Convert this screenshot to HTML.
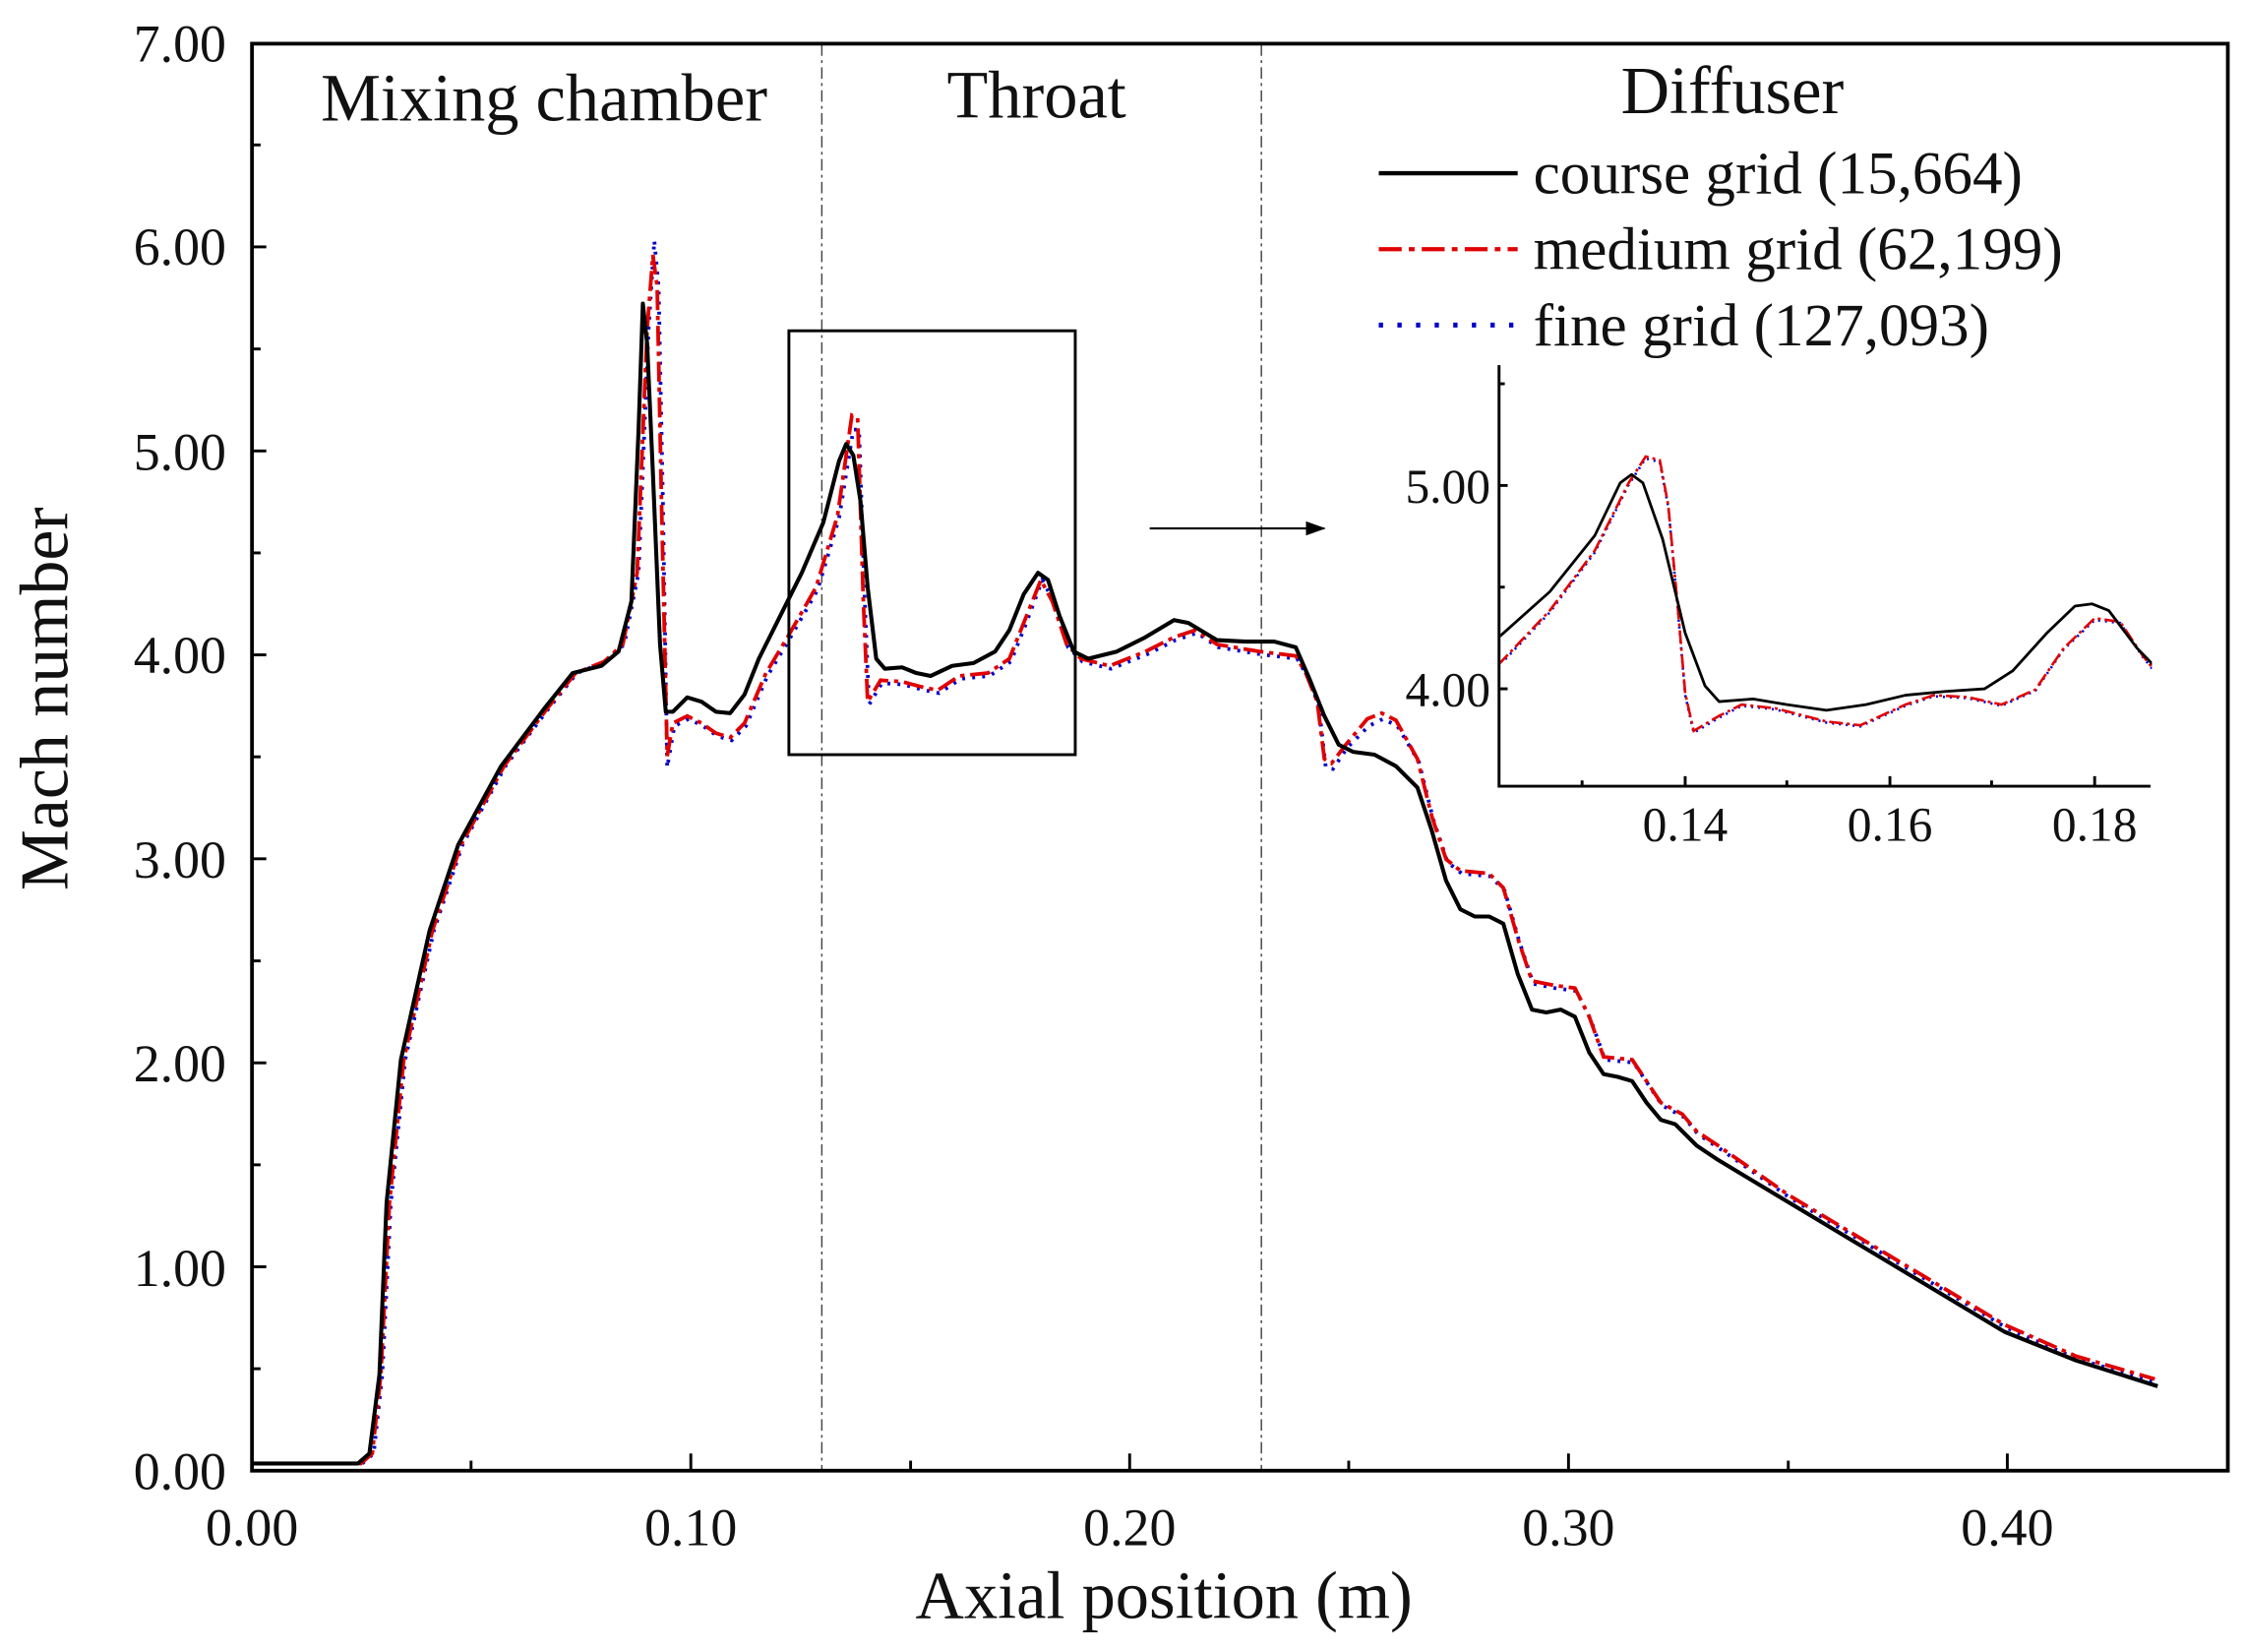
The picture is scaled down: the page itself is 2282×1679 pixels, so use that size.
<!DOCTYPE html>
<html><head><meta charset="utf-8"><style>
html,body{margin:0;padding:0;background:#fff;}
svg{display:block;}
text{font-family:"Liberation Serif",serif;fill:#111;}
</style></head><body>
<svg width="2282" height="1679" viewBox="0 0 1568 1153.6" preserveAspectRatio="none" xmlns="http://www.w3.org/2000/svg">
<defs>
<clipPath id="ic"><rect x="1048" y="250" width="455" height="299"/></clipPath>
<marker id="ah" markerWidth="14" markerHeight="10" refX="13" refY="5" orient="auto" markerUnits="userSpaceOnUse"><path d="M0,0 L14,5 L0,10 z" fill="#000"/></marker>
</defs>
<line x1="574" y1="31" x2="574" y2="1026" stroke="#444" stroke-width="1" stroke-dasharray="8,3,2,3"/>
<line x1="881" y1="31" x2="881" y2="1026" stroke="#444" stroke-width="1" stroke-dasharray="8,3,2,3"/>
<g stroke="#000" stroke-width="2">
<line x1="176" y1="884.6" x2="186" y2="884.6"/><line x1="176" y1="742.2" x2="186" y2="742.2"/><line x1="176" y1="599.7" x2="186" y2="599.7"/><line x1="176" y1="457.3" x2="186" y2="457.3"/><line x1="176" y1="314.9" x2="186" y2="314.9"/><line x1="176" y1="172.4" x2="186" y2="172.4"/>
<line x1="176" y1="955.8" x2="182" y2="955.8"/><line x1="176" y1="813.4" x2="182" y2="813.4"/><line x1="176" y1="671" x2="182" y2="671"/><line x1="176" y1="528.5" x2="182" y2="528.5"/><line x1="176" y1="386.1" x2="182" y2="386.1"/><line x1="176" y1="243.7" x2="182" y2="243.7"/><line x1="176" y1="101.2" x2="182" y2="101.2"/>
<line x1="482.5" y1="1027" x2="482.5" y2="1015"/><line x1="789" y1="1027" x2="789" y2="1015"/><line x1="1095.5" y1="1027" x2="1095.5" y2="1015"/><line x1="1402" y1="1027" x2="1402" y2="1015"/>
<line x1="329" y1="1027" x2="329" y2="1020"/><line x1="636" y1="1027" x2="636" y2="1020"/><line x1="942" y1="1027" x2="942" y2="1020"/><line x1="1249" y1="1027" x2="1249" y2="1020"/>
</g>
<polyline fill="none" stroke="#0000cc" stroke-width="2.6" stroke-dasharray="2,5" points="176,1022 253,1022 261,1015 267,960 273,840 283,740 303,650 323,590 353,535 383,495 403,470 423,462 436,450 446,400 453,230 457,168 460,200 463,350 466,536 471,507 481,502 491,507 501,514 511,517 521,507 536,472 551,447 571,412 586,362 596,300 600,300 604,420 607,492 616,477 631,478 646,482 656,484 671,474 691,472 706,462 716,437 728,405 736,420 746,452 756,462 776,467 801,457 821,447 836,442 851,452 881,457 906,460 913,472 921,492 926,536 931,537 941,522 956,507 966,502 976,507 991,532 1001,572 1011,602 1021,610 1041,612 1051,622 1061,657 1071,687 1086,690 1101,692 1111,712 1121,740 1141,742 1151,757 1161,772 1176,780 1186,792 1201,802 1251,837 1301,867 1351,897 1401,927 1451,949 1505,965"/>
<polyline fill="none" stroke="#e00000" stroke-width="2.6" stroke-dasharray="14,4,3,4" points="176,1022 252,1022 260,1015 266,960 272,840 282,740 302,650 322,590 352,535 382,495 402,470 422,462 435,450 445,400 452,230 456,178 459,200 462,350 466,528 470,505 480,500 490,505 500,512 510,515 520,505 535,470 550,445 570,410 585,360 595,290 599,292 603,420 606,490 615,475 630,476 645,480 655,482 670,472 690,470 705,460 715,435 727,405 735,420 745,450 755,460 775,465 800,455 820,445 835,440 850,450 880,455 905,458 912,470 920,490 925,530 930,533 940,520 955,502 965,498 975,503 990,530 1000,570 1010,600 1020,608 1040,610 1050,620 1060,655 1070,685 1085,688 1100,690 1110,710 1120,738 1140,740 1150,755 1160,770 1175,778 1185,790 1200,800 1250,835 1300,865 1350,895 1400,925 1450,947 1505,963"/>
<polyline fill="none" stroke="#000" stroke-width="2.8" stroke-linejoin="round" points="176,1022 250,1022 258,1015 265,960 270,840 280,740 300,650 320,590 350,535 380,495 400,470 420,465 432,455 441,420 446,300 449,212 452,240 456,330 461,450 465,497 470,497 480,487 490,490 500,497 510,498 520,485 530,460 545,430 560,400 575,365 586,322 591,310 596,318 601,350 606,410 612,460 618,467 630,466 640,470 650,472 665,465 680,463 695,455 705,440 715,415 725,400 732,405 740,430 750,455 760,460 780,455 800,445 820,433 830,435 850,447 870,448 890,448 905,452 915,475 925,500 935,520 945,525 960,527 975,535 990,550 1000,580 1010,615 1020,635 1030,640 1040,640 1050,645 1060,680 1070,705 1080,707 1090,705 1100,710 1110,735 1120,750 1130,752 1140,755 1150,770 1160,782 1170,785 1185,800 1200,810 1250,840 1300,870 1350,900 1400,930 1450,950 1507,968"/>
<rect x="176" y="30.5" width="1380" height="996.5" fill="none" stroke="#000" stroke-width="2.6"/>
<rect x="551" y="231" width="200" height="296" fill="none" stroke="#000" stroke-width="2"/>
<line x1="803" y1="369" x2="925" y2="369" stroke="#000" stroke-width="1.5" marker-end="url(#ah)"/>
<g font-size="37" text-anchor="end">
<text x="158" y="1040">0.00</text><text x="158" y="898">1.00</text><text x="158" y="755">2.00</text><text x="158" y="613">3.00</text><text x="158" y="470">4.00</text><text x="158" y="328">5.00</text><text x="158" y="185">6.00</text><text x="158" y="43">7.00</text>
</g>
<g font-size="37" text-anchor="middle">
<text x="176" y="1079">0.00</text><text x="482.5" y="1079">0.10</text><text x="789" y="1079">0.20</text><text x="1095.5" y="1079">0.30</text><text x="1402" y="1079">0.40</text>
</g>
<text x="813" y="1130" font-size="47" text-anchor="middle">Axial position (m)</text>
<text transform="translate(47,488) rotate(-90)" font-size="48" text-anchor="middle">Mach number</text>
<g font-size="47" text-anchor="middle">
<text x="380" y="84">Mixing chamber</text><text x="724" y="82">Throat</text><text x="1210" y="79">Diffuser</text>
</g>
<line x1="963" y1="121" x2="1060" y2="121" stroke="#000" stroke-width="3"/>
<line x1="963" y1="174" x2="1060" y2="174" stroke="#e00000" stroke-width="3" stroke-dasharray="16,5,4,5"/>
<line x1="963" y1="227" x2="1060" y2="227" stroke="#0000cc" stroke-width="3.5" stroke-dasharray="3,10"/>
<g font-size="42"><text x="1071" y="135">course grid (15,664)</text><text x="1071" y="188">medium grid (62,199)</text><text x="1071" y="241">fine grid (127,093)</text></g>
<g clip-path="url(#ic)">
<g transform="matrix(0.3945,0,0,0.2625,964,205.9)">
<polyline fill="none" vector-effect="non-scaling-stroke" stroke="#0000cc" stroke-width="2.6" stroke-dasharray="2,5" points="150,980 218,975 300,845 380,685 440,505 470,435 495,445 510,565 525,805 540,1065 555,1165 600,1125 640,1093 700,1103 790,1138 850,1148 930,1093 980,1068 1040,1073 1100,1093 1160,1053 1210,943 1265,865 1310,873 1350,963 1398,1053 1500,1150"/>
<polyline fill="none" vector-effect="non-scaling-stroke" stroke="#e00000" stroke-width="2.6" stroke-dasharray="14,4,3,4" points="150,1080 218,970 300,840 380,680 440,500 470,430 495,440 510,560 525,800 540,1060 555,1160 600,1120 640,1090 700,1100 790,1135 850,1145 930,1090 980,1065 1040,1070 1100,1090 1160,1050 1210,940 1265,860 1310,870 1350,960 1398,1050 1500,1150"/>
<polyline fill="none" vector-effect="non-scaling-stroke" stroke="#000" stroke-width="2.8" stroke-linejoin="round" points="150,990 218,900 300,790 380,640 425,500 445,478 465,500 500,650 540,900 575,1040 600,1082 660,1075 720,1090 790,1105 860,1090 930,1065 1000,1055 1070,1048 1120,1000 1180,900 1230,828 1260,822 1290,840 1340,940 1398,1030 1500,1150"/>
</g>
</g>
<g stroke="#000" stroke-width="2" fill="none">
<polyline points="1047,255 1047,549 1502,549"/>
<line x1="1047" y1="339" x2="1053" y2="339"/><line x1="1047" y1="481" x2="1053" y2="481"/><line x1="1047" y1="410" x2="1051" y2="410"/><line x1="1047" y1="268" x2="1051" y2="268"/>
<line x1="1177" y1="549" x2="1177" y2="542"/><line x1="1320" y1="549" x2="1320" y2="542"/><line x1="1463" y1="549" x2="1463" y2="542"/>
<line x1="1105" y1="549" x2="1105" y2="545"/><line x1="1248" y1="549" x2="1248" y2="545"/><line x1="1391" y1="549" x2="1391" y2="545"/>
</g>
<g font-size="34" text-anchor="end"><text x="1041" y="351">5.00</text><text x="1041" y="493">4.00</text></g>
<g font-size="34" text-anchor="middle"><text x="1177" y="587">0.14</text><text x="1320" y="587">0.16</text><text x="1463" y="587">0.18</text></g>
</svg>
</body></html>
